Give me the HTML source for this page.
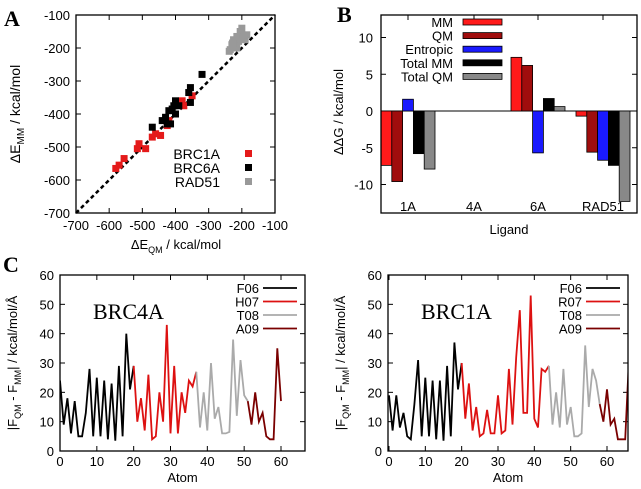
<!DOCTYPE html>
<html><head><meta charset="utf-8"><style>
body{margin:0;background:#fff}
svg{display:block;font-family:"Liberation Sans",sans-serif}
</style></head><body>
<svg id="fig" width="641" height="489" viewBox="0 0 641 489" xmlns="http://www.w3.org/2000/svg">
<text x="4" y="26" font-family="Liberation Serif" font-weight="bold" font-size="22">A</text>
<text x="337" y="22" font-family="Liberation Serif" font-weight="bold" font-size="22">B</text>
<text x="3" y="272" font-family="Liberation Serif" font-weight="bold" font-size="22">C</text>
</svg>
<script>
// ---------- Panel A data ----------
const aRedX=[-580,-570,-555,-510,-515,-490,-470,-460,-445,-425,-420,-380,-375,-350];
const aRedY=[-565,-555,-535,-490,-505,-505,-470,-460,-465,-435,-420,-360,-375,-345];
const aBlkX=[-320,-355,-360,-355,-400,-405,-410,-400,-420,-430,-440,-425,-415,-470,-390];
const aBlkY=[-280,-320,-335,-365,-360,-375,-385,-400,-390,-410,-420,-430,-430,-440,-375];
const aGryX=[-205,-200,-215,-195,-225,-210,-230,-220,-235,-190,-185,-215,-228,-200,-238];
const aGryY=[-150,-160,-165,-170,-175,-180,-190,-195,-205,-175,-160,-200,-185,-140,-210];
const aTicks=[-700,-600,-500,-400,-300,-200,-100];
// ---------- Panel B data ----------
const bGroups=["1A","4A","6A","RAD51"];
const bSeries=["MM","QM","Entropic","Total MM","Total QM"];
const bMM=[-7.4,0,7.3,-0.7];
const bQM=[-9.6,0,6.2,-5.6];
const bEnt=[1.6,0,-5.7,-6.7];
const bTMM=[-5.8,0,1.7,-7.4];
const bTQM=[-7.9,0,0.6,-12.3];
const bTicks=[-10,-5,0,5,10];
// ---------- Panel C data ----------
const cTicksY=[0,10,20,30,40,50,60];
const cTicksX=[0,10,20,30,40,50,60];
const c4F06=[24,9,18,6,17,5,5,13,28,5,25,5,24,4,23,3.5,29,5,40,21,29];
const c4H07=[29,10,18,7,26,4,5,20,10,43,6,29,6,20,13,24,22,27];
const c4T08=[27,8,20,7,30,11,15,6,6,6.5,38,12,31,19,17];
const c4A09=[17,9,20,10,13,5,4,4,35,17];
const c1F06=[19,7,19,8,13,5,4,16,31,5,25,5,24,4,24,3.5,29,5,37,21,30];
const c1R07=[30,11,23,7,15,5,6,14,6,6,19,6,7,28,9,32,48,13,13,53,11,8,28,27,29];
const c1T08=[29,9,20,8,28,9,15,5,5,6,36,15,28,24,16];
const c1A09=[16,10,21,9,11,4,4,4,30,26];

const NS="http://www.w3.org/2000/svg";
const svg=document.getElementById('fig');
function mk(tag,attrs,parent){const e=document.createElementNS(NS,tag);for(const k in attrs)e.setAttribute(k,attrs[k]);(parent||svg).appendChild(e);return e;}
function txt(x,y,s,size,anchor,parent){const t=mk('text',{x:x,y:y,'font-size':size,'text-anchor':anchor||'middle'},parent);t.textContent=s;return t;}

// ===== Panel A =====
(function(){
const g=mk('g',{});


const L=76,R=275,T=15,B=213;
const sx=v=>L+(v+700)/600*(R-L), sy=v=>B-(v+700)/600*(B-T);
aTicks.forEach(v=>{
 mk('line',{x1:sx(v),x2:sx(v),y1:B,y2:B-5,stroke:'#000'},g);mk('line',{x1:sx(v),x2:sx(v),y1:T,y2:T+5,stroke:'#000'},g);
 mk('line',{x1:L,x2:L+5,y1:sy(v),y2:sy(v),stroke:'#000'},g);mk('line',{x1:R,x2:R-5,y1:sy(v),y2:sy(v),stroke:'#000'},g);
 const tx=txt(sx(v),230,String(v),13,'middle',g);
 
 
 const ty=txt(L-6,sy(v)+5,String(v),13,'end',g);
 
 
});
mk('line',{x1:sx(-700),y1:sy(-700),x2:sx(-100),y2:sy(-100),stroke:'#000','stroke-width':2.5,'stroke-dasharray':'4,3'},g);
function pts(X,Y,col,name){X.forEach((x,i)=>{const r=mk('rect',{x:sx(x)-3.5,y:sy(Y[i])-3.5,width:7,height:7,fill:col},g);
 
 });}
pts(aGryX,aGryY,'#999','point-rad51');
pts(aRedX,aRedY,'#e41a1a','point-brc1a');
pts(aBlkX,aBlkY,'#000','point-brc6a');
mk('rect',{x:L,y:T,width:R-L,height:B-T,fill:'none',stroke:'#000','stroke-width':1.3},g);
[['BRC1A','#e41a1a',159],['BRC6A','#000',173],['RAD51','#999',187]].forEach(d=>{
 const t=txt(220,d[2],d[0],14,'end',g);
 
 
 mk('rect',{x:245,y:d[2]-9,width:7,height:7,fill:d[1]},g);
});
const xt=txt(176,249,'',13,'middle',g);xt.innerHTML='ΔE<tspan font-size="9" dy="4">QM</tspan><tspan dy="-4"> / kcal/mol</tspan>';


const yt=txt(0,0,'',14,'middle',g);yt.setAttribute('transform','translate(20,114) rotate(-90)');
yt.innerHTML='ΔE<tspan font-size="10" dy="4">MM</tspan><tspan dy="-4"> / kcal/mol</tspan>';


})();

// ===== Panel B =====
(function(){
const g=mk('g',{});


const L=381,R=637,T=15,B=213;
const y0=111, k=7.35, sy=v=>y0-v*k;
const cols=['#ff1a1a','#a00d0d','#1a1aff','#000','#888'];
const vals=[bMM,bQM,bEnt,bTMM,bTQM];
const centers=[408,474,538,603], bw=10.8;
mk('line',{x1:L,x2:R,y1:y0,y2:y0,stroke:'#000'},g);
bTicks.forEach(v=>{mk('line',{x1:L,x2:L+5,y1:sy(v),y2:sy(v),stroke:'#000'},g);mk('line',{x1:R,x2:R-5,y1:sy(v),y2:sy(v),stroke:'#000'},g);
 const t=txt(L-8,sy(v)+5,String(v),13,'end',g);
 
 });
bGroups.forEach((gname,gi)=>{
 vals.forEach((arr,si)=>{const v=arr[gi];const x=centers[gi]-2.5*bw+si*bw;
  const r=mk('rect',{x:x,y:Math.min(sy(v),y0),width:bw,height:Math.abs(v*k),fill:cols[si],stroke:'#000','stroke-width':0.8},g);
  
  });
 const t=txt(centers[gi],211,gname,13,'middle',g);
 
 
 mk('line',{x1:centers[gi],x2:centers[gi],y1:T,y2:T+5,stroke:'#000'},g);
});
mk('rect',{x:L,y:T,width:R-L,height:B-T,fill:'none',stroke:'#000','stroke-width':1.3},g);
bSeries.forEach((s,i)=>{const y=22+i*13.6;
 const t=txt(453,y+5,s,13,'end',g);
 
 
 mk('rect',{x:463,y:y-3,width:39,height:6,fill:cols[i],stroke:'#000','stroke-width':0.8},g);});
const xt=txt(509,234,'Ligand',13,'middle',g);


const yt=txt(0,0,'ΔΔG / kcal/mol',13,'middle',g);yt.setAttribute('transform','translate(343,112) rotate(-90)');


})();

// ===== Panel C =====
function lineChart(name,title,L,R,x0,x60,segs,labels){
 const g=mk('g',{});
 
 
 const T=275,B=451;
 const sx=v=>x0+v*(x60-x0)/60, sy=v=>B-v*(B-T)/60;
 cTicksY.forEach(v=>{mk('line',{x1:L,x2:L+5,y1:sy(v),y2:sy(v),stroke:'#000'},g);mk('line',{x1:R,x2:R-5,y1:sy(v),y2:sy(v),stroke:'#000'},g);
  const t=txt(L-6,sy(v)+5,String(v),13,'end',g);
  
  });
 cTicksX.forEach(v=>{mk('line',{x1:sx(v),x2:sx(v),y1:B,y2:B-5,stroke:'#000'},g);mk('line',{x1:sx(v),x2:sx(v),y1:T,y2:T+5,stroke:'#000'},g);
  const t=txt(sx(v),466,String(v),13,'middle',g);
  
  });
 const cols=['#000','#dd1111','#aaa','#7a0000'];
 let start=0;
 const cp=mk('clipPath',{id:'clip'+name},g);mk('rect',{x:L,y:T,width:R-L,height:B-T},cp);
 segs.forEach((arr,si)=>{
  const d=arr.map((v,i)=>(i?'L':'M')+sx(start+i).toFixed(1)+','+sy(v).toFixed(1)).join('');
  const p=mk('path',{d:d,fill:'none',stroke:cols[si],'stroke-width':1.8,'clip-path':'url(#clip'+name+')'},g);
  
  
  start+=arr.length-1;
 });
 mk('rect',{x:L,y:T,width:R-L,height:B-T,fill:'none',stroke:'#000','stroke-width':1.3},g);
 labels.forEach((s,i)=>{const y=288+i*13.5;
  const t=txt(R-46,y+5,s,13,'end',g);
  
  
  mk('line',{x1:R-42,x2:R-8,y1:y,y2:y,stroke:cols[i],'stroke-width':1.8},g);});
 const tt=txt(L+33,319,title,22,'start',g);tt.setAttribute('font-family','Liberation Serif');
 
 
 const xt=txt((L+R)/2,482,'Atom',13,'middle',g);
 
 
 const yt=txt(0,0,'',13,'middle',g);yt.setAttribute('transform','translate('+(L-43)+',363) rotate(-90)');
 yt.innerHTML='|F<tspan font-size="9" dy="4">QM</tspan><tspan dy="-4"> - F</tspan><tspan font-size="9" dy="4">MM</tspan><tspan dy="-4">| / kcal/mol/Å</tspan>';
 
 
}
lineChart('line-chart-brc4a','BRC4A',60,305,60,281,[c4F06,c4H07,c4T08,c4A09],['F06','H07','T08','A09']);
lineChart('line-chart-brc1a','BRC1A',388,628,389,607,[c1F06,c1R07,c1T08,c1A09],['F06','R07','T08','A09']);
</script>
</body></html>
